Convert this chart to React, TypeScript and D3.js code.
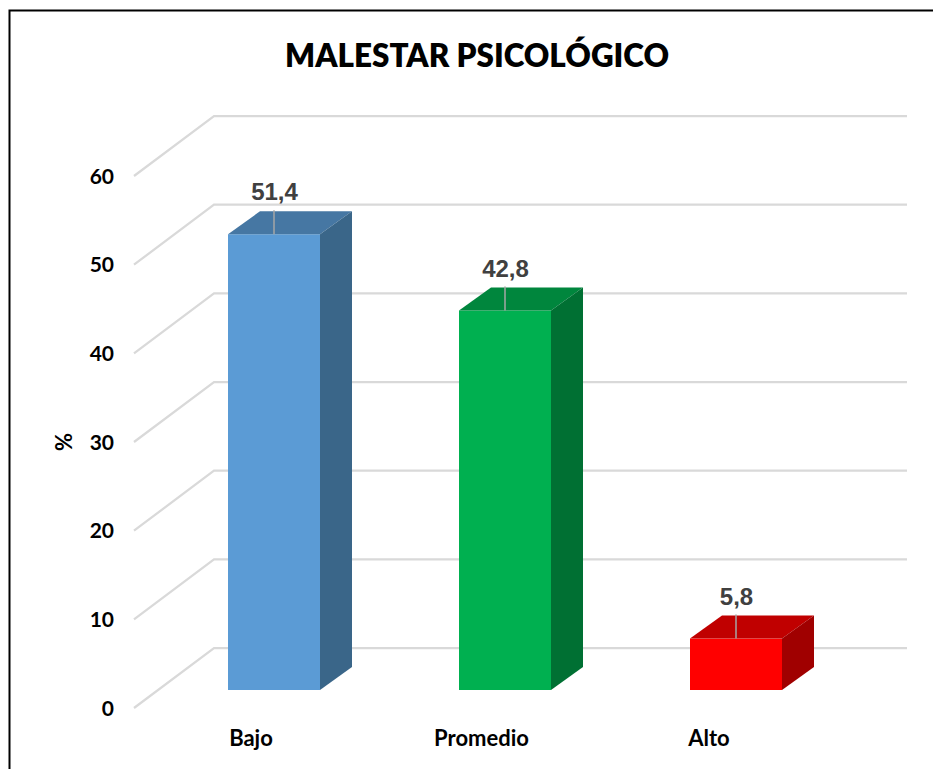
import React from "react";
import * as d3 from "d3";

const categories = ["Bajo", "Promedio", "Alto"];
const values = [51.4, 42.8, 5.8];
const valueLabels = ["51,4", "42,8", "5,8"];
const yTicks = [0, 10, 20, 30, 40, 50, 60];
const frontColors = ["#5B9BD5", "#00B050", "#FF0000"];
const topColors = ["#4677A3", "#00863D", "#C00000"];
const sideColors = ["#3A6689", "#007033", "#A00000"];
const title = "MALESTAR PSICOLÓGICO";
const yTitle = "%";

const W = 933, H = 769;
const calibri = "Lato, 'Open Sans', sans-serif";
const arial = "'Liberation Sans', Arial, sans-serif";

export default function App() {
  const yFront = d3.scaleLinear().domain([0, 60]).range([708, 176]);
  const yBar = d3.scaleLinear().domain([0, 60]).range([690, 158]);
  const xBand = d3.scalePoint().domain(categories).range([274, 736]);
  const barW = 92, dx = 32, dy = 23;
  const gridDx = 80, gridDy = 60, gridEnd = 907;
  const catLabelOffset = [-23, -23.5, -27];

  return (
    <svg width={W} height={H} viewBox={`0 0 ${W} ${H}`} style={{ position: "absolute", left: 0, top: 0, background: "#fff" }}>
      <path d={`M9.5 ${H}V10.5H${W}`} fill="none" stroke="#000" strokeWidth={2} />
      <text x={477} y={67} textAnchor="middle" fontFamily={calibri} fontWeight={800} fontSize={32} textLength={384} lengthAdjust="spacingAndGlyphs" fill="#000">{title}</text>
      {yTicks.map((t) => {
        const y0 = yFront(t);
        return (
          <g key={t}>
            <path d={`M134 ${y0}L${134 + gridDx} ${y0 - gridDy}H${gridEnd}`} fill="none" stroke="#D9D9D9" strokeWidth={2.25} />
            <text x={114} y={y0 + 7.5} textAnchor="end" fontFamily={calibri} fontWeight={700} fontSize={21} fill="#000">{t}</text>
          </g>
        );
      })}
      <text transform="translate(72,442) rotate(-90)" textAnchor="middle" fontFamily={calibri} fontWeight={700} fontSize={22} fill="#000">{yTitle}</text>
      {categories.map((c, i) => {
        const cx = xBand(c)!;
        const l = cx - barW / 2, r = cx + barW / 2;
        const b = yBar(0), t = yBar(values[i]);
        return (
          <g key={c}>
            <rect x={l} y={t} width={barW} height={b - t} fill={frontColors[i]} />
            <path d={`M${l} ${t}L${l + dx} ${t - dy}H${r + dx}L${r} ${t}Z`} fill={topColors[i]} />
            <path d={`M${r} ${t}L${r + dx} ${t - dy}V${b - dy}L${r} ${b}Z`} fill={sideColors[i]} />
            <line x1={cx} x2={cx} y1={t} y2={t - 24} stroke="#A6A6A6" strokeWidth={1.5} />
            <text x={cx + 0.5} y={t - 34} textAnchor="middle" fontFamily={arial} fontWeight={700} fontSize={24} fill="#404040">{valueLabels[i]}</text>
            <text x={cx + catLabelOffset[i]} y={746} textAnchor="middle" fontFamily={calibri} fontWeight={700} fontSize={22} fill="#000">{c}</text>
          </g>
        );
      })}
    </svg>
  );
}
